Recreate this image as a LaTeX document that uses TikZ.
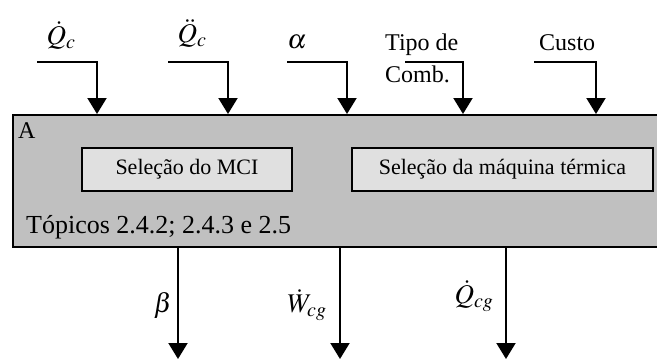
\documentclass[tikz,border=0pt]{standalone}
\usepackage{mathptmx}
\usepackage[no-math]{fontspec}
\setmainfont{Liberation Serif}
\usetikzlibrary{arrows.meta}
\definecolor{panelgray}{RGB}{192,192,192}
\definecolor{boxgray}{RGB}{224,224,224}
\tikzset{
  panel/.style={draw=black, line width=2pt, fill=panelgray, inner sep=0pt},
  subbox/.style={draw=black, line width=1.8pt, fill=boxgray, inner sep=0pt,
    font=\fontsize{22}{26}\selectfont},
  flow/.style={line width=2pt, -{Triangle[width=19pt,length=16pt]}},
  lbl/.style={inner sep=0pt, font=\fontsize{24}{32}\selectfont},
  mlbl/.style={inner sep=0pt, font=\fontsize{27}{32}\selectfont},
}
\begin{document}
\begin{tikzpicture}[x=1pt, y=-1pt]
\useasboundingbox (0,0) rectangle (657,360);
\begin{scope}
\clip (0,0) rectangle (657,360);

% main activity block
\node[panel, anchor=north west, minimum width=650pt, minimum height=132pt] (A) at (12,114) {};
\node[inner sep=0pt, anchor=base west, font=\fontsize{24}{28}\selectfont] (tagA) at (18,138) {A};
\node[inner sep=0pt, anchor=base west, font=\fontsize{26}{30}\selectfont] (topics) at (26,233) {Tópicos 2.4.2; 2.4.3 e 2.5};

% sub-activities
\node[subbox, minimum width=210pt, minimum height=43pt] (mci) at (187,169.5) {Seleção do MCI};
\node[subbox, minimum width=301pt, minimum height=43pt] (maq) at (502.5,169.5) {Seleção da máquina térmica};

% inputs
\node[mlbl] (qc) at (61,35) {$\dot{Q}_c$};
\node[mlbl] (qqc) at (192,33) {$\ddot{Q}_c$};
\node[mlbl] (alpha) at (297,42) {$\alpha$};
\node[lbl, align=left, anchor=north west] (comb) at (385,33.5) {Tipo de\\Comb.};
\node[lbl, anchor=base west] (custo) at (539,50) {Custo};

\coordinate (s1) at (37,62);  \coordinate (t1) at (97,114);
\coordinate (s2) at (168,62); \coordinate (t2) at (228,114);
\coordinate (s3) at (287,62); \coordinate (t3) at (347,114);
\coordinate (s4) at (405,62); \coordinate (t4) at (463,114);
\coordinate (s5) at (534,62); \coordinate (t5) at (596,114);

\draw[flow] (s1) -| (t1);
\draw[flow] (s2) -| (t2);
\draw[flow] (s3) -| (t3);
\draw[flow] (s4) -| (t4);
\draw[flow] (s5) -| (t5);

% outputs
\node[mlbl] (beta) at (163,305) {$\beta$};
\node[mlbl] (wcg) at (307,305) {$\dot{W}_{cg}$};
\node[mlbl] (qcg) at (474,296) {$\dot{Q}_{cg}$};

\coordinate (o1) at (178,359);
\coordinate (o2) at (340,359);
\coordinate (o3) at (506,359);

\draw[flow] (o1 |- A.south) -- (o1);
\draw[flow] (o2 |- A.south) -- (o2);
\draw[flow] (o3 |- A.south) -- (o3);
\end{scope}
\end{tikzpicture}
\end{document}
